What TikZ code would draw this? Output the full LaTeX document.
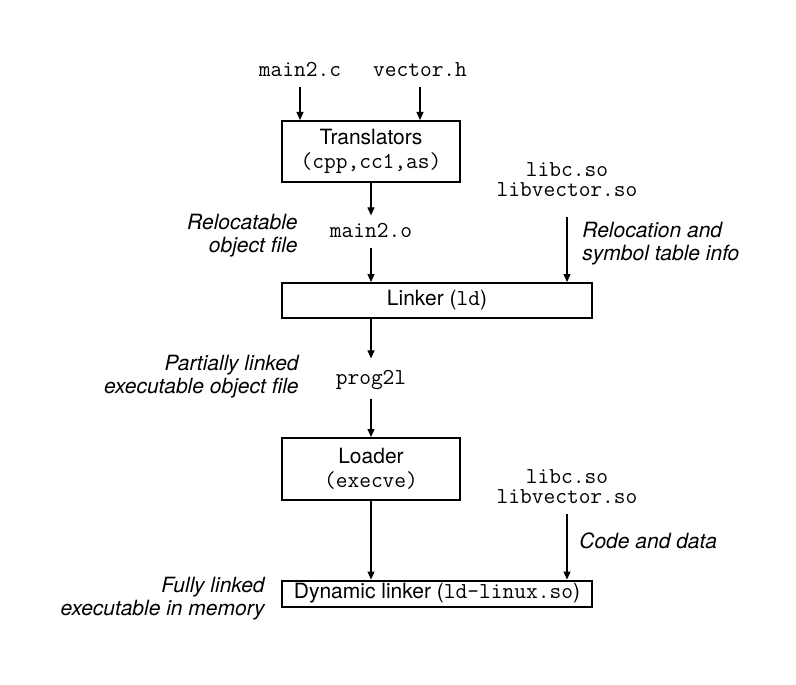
\documentclass[tikz,border=0pt]{standalone}
\usepackage{fontspec}
\setmainfont{TeX Gyre Heros}
\usetikzlibrary{arrows.meta}
\tikzset{
  chain style/.style={
    x=0.5pt, y=-0.5pt,
    font=\fontsize{10.5}{12}\selectfont,
  },
  stage box/.style={
    draw,
    line width=1pt,
    inner sep=0pt,
    align=center,
  },
  file label/.style={
    font=\fontsize{11.4}{10}\selectfont\ttfamily,
    inner sep=0pt,
    align=center,
  },
  info label/.style={
    font=\fontsize{10.5}{11.5}\selectfont\itshape,
    inner sep=0pt,
  },
  flow/.style={
    -{Triangle[length=4pt,width=3.5pt]},
    line width=0.6pt,
  },
}
\newcommand{\boxtt}[1]{{\fontsize{11.4}{12}\selectfont\ttfamily #1}}

\begin{document}
\begin{tikzpicture}[chain style]
  \useasboundingbox (0,0) rectangle (796,684);
  % sources and translators
  \node[file label, anchor=base] (mainc) at (300,77) {main2.c};
  \node[file label, anchor=base] (vech) at (420,77) {vector.h};
  \node[stage box, minimum width=89pt, minimum height=30.5pt] (trans) at (371,151.5)
    {Translators\\\boxtt{(cpp,cc1,as)}};
  \draw[flow, shorten <=4.5pt] (mainc) -- (mainc |- trans.north);
  \draw[flow, shorten <=4.5pt] (vech) -- (vech |- trans.north);
  % static linking
  \node[file label, anchor=base] (maino) at (371,237) {main2.o};
  \node[info label, align=right, anchor=east] (reloc) at (298,236)
    {Relocatable\\object file};
  \node[file label] (libs1) at (567,180) {libc.so\\libvector.so};
  \node[info label, align=left, anchor=west] (relinfo) at (582,244)
    {Relocation and\\symbol table info};
  \node[stage box, minimum width=155pt, minimum height=17.5pt] (linker) at (437,300.5)
    {Linker (\boxtt{ld})};
  \draw[flow, shorten >=3.5pt] (trans) -- (maino);
  \draw[flow, shorten <=5pt] (maino) -- (maino |- linker.north);
  \draw[flow, shorten <=10pt] (libs1) -- (libs1 |- linker.north);
  % loading
  \node[file label, anchor=base] (prog) at (371,384) {prog2l};
  \node[info label, align=right, anchor=east] (partial) at (299,377)
    {Partially linked\\executable object file};
  \node[stage box, minimum width=89pt, minimum height=31pt] (loader) at (371,469)
    {Loader\\\boxtt{(execve)}};
  \draw[flow, shorten >=5.5pt] (prog |- linker.south) -- (prog);
  \draw[flow, shorten <=4.5pt] (prog) -- (loader);
  % dynamic linking
  \node[file label] (libs2) at (567,487) {libc.so\\libvector.so};
  \node[info label, anchor=base west] (codedata) at (579,548) {Code and data};
  \node[stage box, minimum width=155pt, minimum height=13pt] (dyn) at (437,593.5)
    {Dynamic linker (\boxtt{ld-linux.so})};
  \node[info label, align=right, anchor=east] (fully) at (265,599)
    {Fully linked\\executable in memory};
  \draw[flow] (loader) -- (loader |- dyn.north);
  \draw[flow, shorten <=5pt] (libs2) -- (libs2 |- dyn.north);
\end{tikzpicture}
\end{document}
